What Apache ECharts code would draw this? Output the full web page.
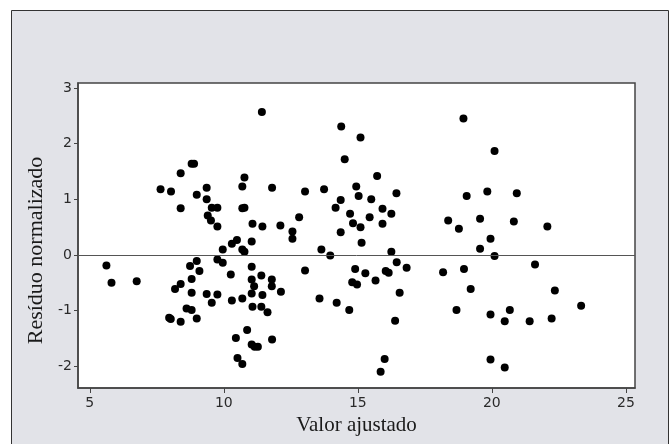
<!DOCTYPE html>
<html>
<head>
<meta charset="utf-8">
<script src="https://cdn.jsdelivr.net/npm/echarts@6/dist/echarts.min.js"></script>
<style>html,body{margin:0;padding:0;background:#fff}#c{width:670px;height:444px}</style>
</head>
<body>
<div id="c"></div>
<script>
// Fitted values (x) and normalized residuals (y)
const fitted = [5.62,5.81,6.75,7.64,8.03,8.39,8.39,8.80,8.89,8.99,9.36,9.36,9.55,9.76,9.40,9.52,9.76,9.96,8.18,8.39,8.74,8.99,9.09,8.80,8.80,8.02,7.96,8.39,8.61,8.80,8.99,9.36,9.55,9.76,9.76,9.96,
10.30,10.49,10.69,10.77,10.69,10.77,11.07,11.04,10.69,10.77,11.42,11.44,11.80,12.11,12.56,12.56,12.81,13.03,10.26,11.04,11.40,11.04,11.13,11.04,11.79,11.79,11.44,12.13,10.30,10.69,11.07,11.40,11.63,10.87,10.45,11.80,11.04,11.15,11.27,10.51,10.69,13.03,13.57,
13.74,13.64,13.97,14.38,14.51,14.36,14.17,14.71,14.36,15.10,15.72,14.94,15.03,15.50,16.44,14.82,15.10,15.44,15.92,16.25,15.92,15.14,16.25,14.90,15.28,14.79,14.97,15.66,16.04,16.15,16.45,16.82,16.56,14.21,14.68,16.39,16.00,15.85,
18.37,18.77,18.94,19.06,19.56,19.56,20.10,19.83,20.93,20.82,22.07,19.95,20.10,18.18,18.96,19.21,21.61,22.35,18.68,19.95,20.67,20.48,21.41,22.23,23.33,19.95,20.48];
const residuals = [-0.19,-0.50,-0.47,1.18,1.14,1.47,0.84,1.64,1.64,1.08,1.21,1.00,0.85,0.85,0.71,0.62,0.51,0.10,-0.61,-0.52,-0.20,-0.11,-0.29,-0.43,-0.68,-1.15,-1.13,-1.20,-0.96,-0.99,-1.14,-0.70,-0.86,-0.71,-0.08,-0.14,
0.20,0.27,1.23,1.39,0.84,0.85,0.56,0.24,0.10,0.06,2.57,0.51,1.21,0.53,0.42,0.29,0.68,1.14,-0.35,-0.21,-0.37,-0.44,-0.56,-0.69,-0.44,-0.56,-0.72,-0.66,-0.82,-0.78,-0.93,-0.93,-1.03,-1.35,-1.49,-1.52,-1.61,-1.65,-1.65,-1.85,-1.96,-0.28,-0.78,
1.18,0.10,-0.01,2.31,1.72,0.99,0.85,0.74,0.41,2.11,1.42,1.23,1.06,1.00,1.11,0.57,0.50,0.68,0.83,0.74,0.56,0.22,0.06,-0.25,-0.33,-0.49,-0.53,-0.46,-0.29,-0.32,-0.13,-0.23,-0.68,-0.86,-0.99,-1.18,-1.87,-2.10,
0.62,0.47,2.45,1.06,0.65,0.11,1.87,1.14,1.11,0.60,0.51,0.29,-0.02,-0.31,-0.25,-0.61,-0.17,-0.64,-0.99,-1.07,-0.99,-1.19,-1.19,-1.14,-0.91,-1.88,-2.02];
const xTicks = [5,10,15,20,25];
const yTicks = [-2,-1,0,1,2,3];
const xTitle = 'Valor ajustado';
const yTitle = 'Resíduo normalizado';

const points = fitted.map((v,i)=>[v, residuals[i]]);
const chart = echarts.init(document.getElementById('c'), null, {renderer:'canvas'});
const tickFont = {fontFamily:'"DejaVu Sans", sans-serif', fontSize:14, color:'#2a2a2a'};
chart.setOption({
  animation:false,
  backgroundColor:'#ffffff',
  graphic:[{type:'rect', z:-10, shape:{x:11.5,y:10.5,width:657,height:460}, style:{fill:'#e2e3e8', stroke:'#333', lineWidth:1}}],
  grid:{left:78, right:35, top:83, bottom:56, show:true, backgroundColor:'#ffffff', borderColor:'#444', borderWidth:1.5},
  xAxis:{type:'value', min:4.56, max:25.34,
    name:xTitle, nameLocation:'middle', nameGap:27,
    nameTextStyle:{fontFamily:'"Liberation Serif", serif', fontSize:21, color:'#1a1a1a'},
    axisLine:{show:true, onZero:false, lineStyle:{color:'#444', width:1.5}},
    axisTick:{show:true, inside:false, length:5, customValues:xTicks, lineStyle:{color:'#444'}},
    axisLabel:{...tickFont, margin:8, customValues:xTicks},
    splitLine:{show:false}},
  yAxis:{type:'value', min:-2.39, max:3.09,
    name:yTitle, nameLocation:'middle', nameGap:31,
    nameTextStyle:{fontFamily:'"Liberation Serif", serif', fontSize:22, color:'#1a1a1a', padding:[0,30,0,0]},
    axisLine:{show:true, onZero:false, lineStyle:{color:'#444', width:1.5}},
    axisTick:{show:true, inside:false, length:4, customValues:yTicks, lineStyle:{color:'#444'}},
    axisLabel:{...tickFont, margin:6, customValues:yTicks},
    splitLine:{show:false}},
  series:[{type:'scatter', data:points, symbol:'circle', symbolSize:8,
    itemStyle:{color:'#000', opacity:1},
    markLine:{silent:true, symbol:'none', label:{show:false}, lineStyle:{color:'#555', width:1, type:'solid'}, data:[{yAxis:0}]}}]
});
</script>
</body>
</html>
